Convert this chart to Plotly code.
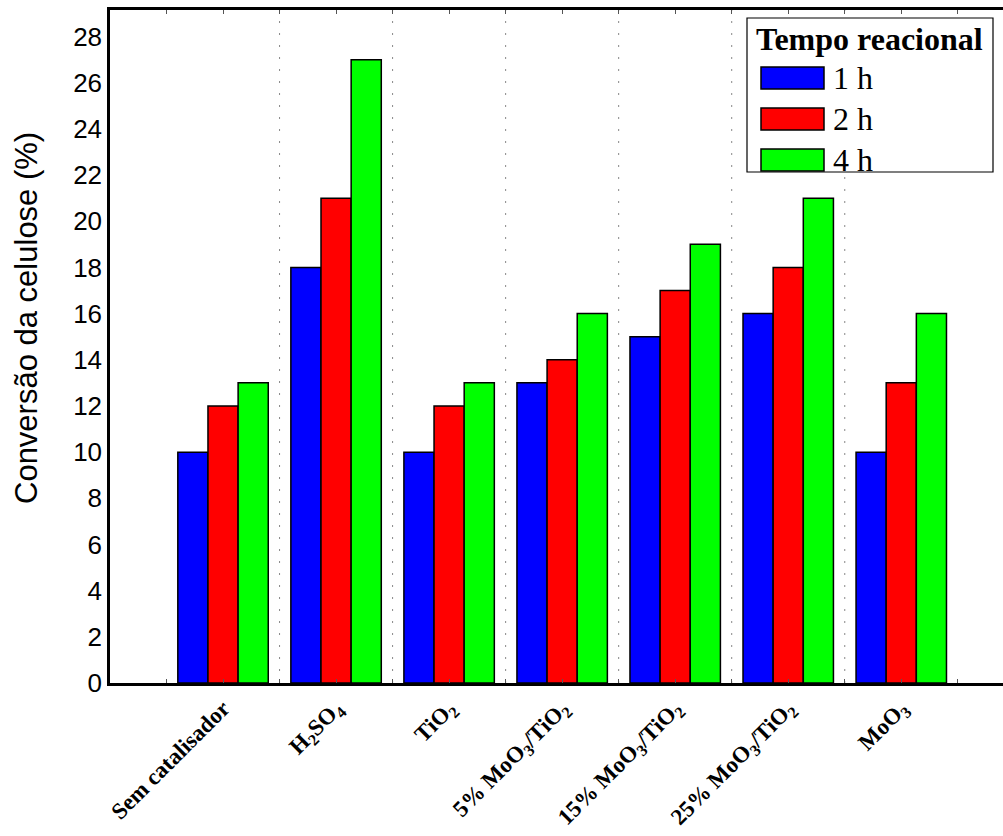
import plotly.graph_objects as go

# Catalysts and cellulose conversion (%) per reaction time
catalisadores = [
    "Sem catalisador",
    "H<sub>2</sub>SO<sub>4</sub>",
    "TiO<sub>2</sub>",
    "5% MoO<sub>3</sub>/TiO<sub>2</sub>",
    "15% MoO<sub>3</sub>/TiO<sub>2</sub>",
    "25% MoO<sub>3</sub>/TiO<sub>2</sub>",
    "MoO<sub>3</sub>",
]
conv_1h = [10, 18, 10, 13, 15, 16, 10]
conv_2h = [12, 21, 12, 14, 17, 18, 13]
conv_4h = [13, 27, 13, 16, 19, 21, 16]
tempos = ["1 h", "2 h", "4 h"]
cores = ["#0000FF", "#FF0000", "#00FF00"]
y_ticks = list(range(0, 30, 2))

pos = list(range(1, len(catalisadores) + 1))

W, H = 1003, 836
ML, MT, MB = 110, 10, 153
PW, PH = W - ML, H - MT - MB


def px_x(x):
    return (x - ML) / PW


def px_y(y):
    return (H - MB - y) / PH


fig = go.Figure()
for nome, vals, cor in zip(tempos, [conv_1h, conv_2h, conv_4h], cores):
    fig.add_trace(go.Bar(
        x=pos, y=vals, name=nome,
        marker=dict(color=cor, line=dict(color="black", width=1.5)),
        showlegend=False,
    ))

# tick marks every half category, labels only at the category centres
tickvals = [i * 0.5 for i in range(1, 2 * len(catalisadores) + 2)]
ticktext = []
for v in tickvals:
    if v == int(v) and 1 <= v <= len(catalisadores):
        ticktext.append("<b>" + catalisadores[int(v) - 1] + "</b>")
    else:
        ticktext.append("")

fig.update_layout(
    width=W, height=H,
    margin=dict(l=ML, r=0, t=MT, b=MB),
    plot_bgcolor="white", paper_bgcolor="white",
    barmode="group", bargap=0.2, bargroupgap=0,
    showlegend=False,
    xaxis=dict(
        range=[0, 7.9],
        tickvals=tickvals, ticktext=ticktext,
        tickangle=-45,
        tickfont=dict(family="Liberation Serif", size=23, color="black"),
        ticks="inside", ticklen=4, tickcolor="#555",
        showline=True, linecolor="black", linewidth=2.5,
        mirror="ticks", showgrid=False, zeroline=False,
    ),
    yaxis=dict(
        range=[0, 29.15],
        tickvals=y_ticks,
        tickfont=dict(family="Liberation Sans", size=26, color="black"),
        ticks="", ticklabelstandoff=0,
        showline=True, linecolor="black", linewidth=2.5,
        showgrid=False, zeroline=False,
    ),
)

# y-axis title
fig.add_annotation(xref="paper", yref="paper", x=px_x(26), y=px_y(318),
                   text="Conversão da celulose (%)", textangle=-90,
                   showarrow=False, xanchor="center", yanchor="middle",
                   font=dict(family="Liberation Sans", size=31, color="black"))

# dotted separators between category groups
for k in range(1, len(catalisadores)):
    fig.add_shape(type="line", xref="x", yref="paper",
                  x0=k + 0.5, x1=k + 0.5, y0=0, y1=1,
                  line=dict(color="#888", width=1, dash="2px,10px"),
                  layer="below")

# legend box drawn with large swatches
fig.add_shape(type="rect", xref="paper", yref="paper",
              x0=px_x(747), x1=px_x(993), y0=px_y(172), y1=px_y(18),
              line=dict(color="black", width=1.2), fillcolor="white")
fig.add_annotation(xref="paper", yref="paper", x=px_x(869), y=px_y(39),
                   text="<b>Tempo reacional</b>", showarrow=False,
                   font=dict(family="Liberation Serif", size=32, color="black"),
                   xanchor="center", yanchor="middle")
for i, (nome, cor) in enumerate(zip(tempos, cores)):
    yc = 78 + i * 41
    fig.add_shape(type="rect", xref="paper", yref="paper",
                  x0=px_x(761), x1=px_x(824),
                  y0=px_y(yc + 11), y1=px_y(yc - 11),
                  line=dict(color="black", width=1.5), fillcolor=cor)
    fig.add_annotation(xref="paper", yref="paper", x=px_x(831), y=px_y(yc),
                       text=nome, showarrow=False,
                       font=dict(family="Liberation Serif", size=32, color="black"),
                       xanchor="left", yanchor="middle")

fig.write_html("out.html")
